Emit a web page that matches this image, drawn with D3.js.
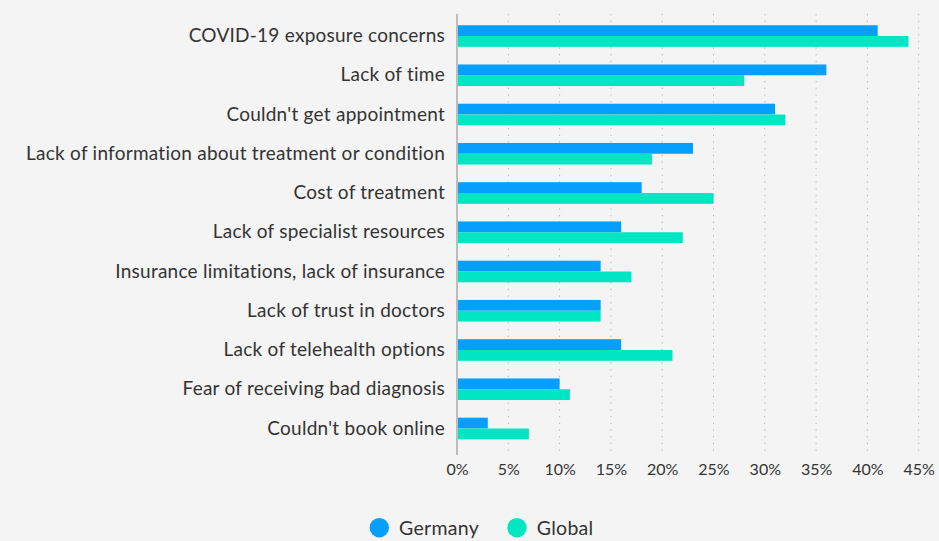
<!DOCTYPE html>
<html>
<head>
<meta charset="utf-8">
<script src="https://cdn.jsdelivr.net/npm/d3@7"></script>
<style>
  html, body { margin: 0; padding: 0; background: #f4f4f4; }
  svg { display: block; }
  text { font-family: Lato, "Noto Sans", sans-serif; fill: #333; }
</style>
</head>
<body>
<svg id="chart" width="939" height="541"></svg>
<script>
// Reasons for delaying care, share of respondents (%)
const categories = [
  "COVID-19 exposure concerns",
  "Lack of time",
  "Couldn't get appointment",
  "Lack of information about treatment or condition",
  "Cost of treatment",
  "Lack of specialist resources",
  "Insurance limitations, lack of insurance",
  "Lack of trust in doctors",
  "Lack of telehealth options",
  "Fear of receiving bad diagnosis",
  "Couldn't book online"
];
const germany = [41, 36, 31, 23, 18, 16, 14, 14, 16, 10, 3];
const globalVals = [44, 28, 32, 19, 25, 22, 17, 14, 21, 11, 7];
const seriesNames = ["Germany", "Global"];
const seriesColors = ["#069ffe", "#00e6c3"];
const xTicks = [0, 5, 10, 15, 20, 25, 30, 35, 40, 45];

const series = [germany, globalVals];
const svg = d3.select("#chart");

const plot = { left: 457, right: 918.7, top: 16.4, bottom: 448.1 };

const x = d3.scaleLinear().domain([0, 45]).range([plot.left, plot.right]);
const y = d3.scaleBand().domain(categories).range([plot.top, plot.bottom]).paddingInner(0.45).paddingOuter(0.225);
const ySub = d3.scaleBand().domain(seriesNames).range([0, y.bandwidth()]);

// dotted vertical gridlines
svg.append("g")
  .selectAll("line")
  .data(xTicks.filter(d => d > 0))
  .join("line")
  .attr("x1", d => x(d)).attr("x2", d => x(d))
  .attr("y1", 14).attr("y2", 455)
  .attr("stroke", "#b4b4b4")
  .attr("stroke-width", 1)
  .attr("stroke-dasharray", "1.3,5.4");

// bars
const groups = svg.append("g")
  .selectAll("g")
  .data(categories)
  .join("g")
  .attr("transform", d => `translate(0,${y(d)})`);

groups.selectAll("rect")
  .data((c, i) => series.map((s, k) => ({ name: seriesNames[k], value: s[i], color: seriesColors[k] })))
  .join("rect")
  .attr("x", x(0))
  .attr("y", d => ySub(d.name))
  .attr("width", d => x(d.value) - x(0))
  .attr("height", ySub.bandwidth())
  .attr("fill", d => d.color);

// category axis
const yAxis = svg.append("g")
  .attr("transform", `translate(${plot.left},0)`)
  .call(d3.axisLeft(y).tickSize(0).tickPadding(12));
yAxis.select(".domain").remove();
yAxis.selectAll("text")
  .style("font-size", "19px")
  .style("letter-spacing", "0.25px")
  .attr("fill", "#333");
yAxis.append("line")
  .attr("x1", 0).attr("x2", 0)
  .attr("y1", 14).attr("y2", 455)
  .attr("stroke", "#bdbdbd")
  .attr("stroke-width", 2);

// value axis
const xAxis = svg.append("g")
  .attr("transform", `translate(0,455)`)
  .call(d3.axisBottom(x).tickValues(xTicks).tickFormat(d => d + "%").tickSize(0).tickPadding(9));
xAxis.select(".domain").remove();
xAxis.selectAll("text")
  .style("font-size", "16px")
  .attr("fill", "#333");

// legend
const legend = svg.append("g")
  .selectAll("g")
  .data(seriesNames)
  .join("g")
  .attr("transform", (d, i) => `translate(${[379.3, 517][i]},527.7)`);
legend.append("circle")
  .attr("r", 9.7)
  .attr("fill", (d, i) => seriesColors[i]);
legend.append("text")
  .attr("x", 19.7)
  .attr("dy", "0.35em")
  .style("font-size", "19.5px")
  .style("letter-spacing", "0.3px")
  .text(d => d);
</script>
</body>
</html>
